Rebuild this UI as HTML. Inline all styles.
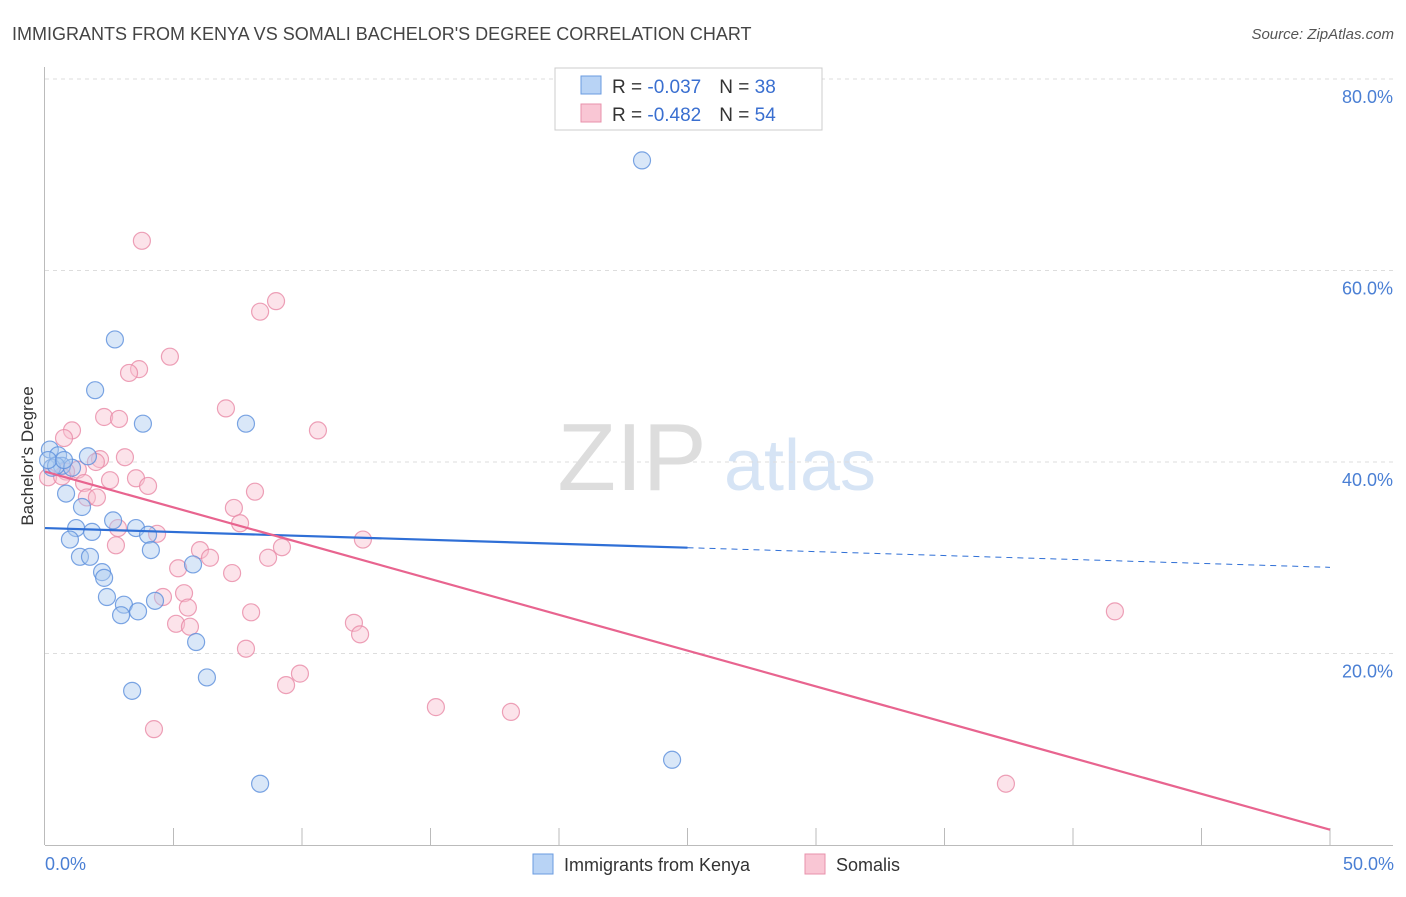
<!DOCTYPE html>
<html><head><meta charset="utf-8"><style>
body{margin:0;background:#fff;font-family:"Liberation Sans",sans-serif;}
svg text{font-family:"Liberation Sans",sans-serif;}
</style></head><body>
<svg id="chart" width="1406" height="892" xmlns="http://www.w3.org/2000/svg">
<text x="12" y="40" font-size="18" fill="#444">IMMIGRANTS FROM KENYA VS SOMALI BACHELOR'S DEGREE CORRELATION CHART</text>
<text x="1394" y="39" font-size="15" fill="#555" font-style="italic" text-anchor="end">Source: ZipAtlas.com</text>
<g>
<text x="632" y="490" font-size="96" fill="#ddd" text-anchor="middle" font-family="Liberation Serif,serif">ZIP</text>
<text x="800" y="490" font-size="72" fill="#d6e4f5" text-anchor="middle">atlas</text>
</g>
<g id="grid"></g>
<line x1="44.5" y1="67" x2="44.5" y2="845" stroke="#bbb"/>
<line x1="45" y1="845.5" x2="1393" y2="845.5" stroke="#bbb"/>
<g id="ticks"></g>
<g id="pts"></g>
<g id="trend"></g>
<text transform="translate(33,456) rotate(-90)" font-size="17" fill="#333" text-anchor="middle">Bachelor's Degree</text>
<text x="45" y="870" font-size="18" fill="#4a7fd4">0.0%</text>
<text x="1394" y="870" font-size="18" fill="#4a7fd4" text-anchor="end">50.0%</text>
<g>
<rect x="555" y="68" width="267" height="62" fill="#fff" stroke="#ccc"/>
<rect x="581" y="76" width="20" height="18" fill="#b8d3f5" stroke="#6a9be0"/>
<rect x="581" y="104" width="20" height="18" fill="#f9c6d4" stroke="#e891ab"/>
<text x="612" y="93" font-size="19" fill="#333">R = <tspan fill="#3a6fd0">-0.037</tspan><tspan dx="18">N = </tspan><tspan fill="#3a6fd0">38</tspan></text>
<text x="612" y="121" font-size="19" fill="#333">R = <tspan fill="#3a6fd0">-0.482</tspan><tspan dx="18">N = </tspan><tspan fill="#3a6fd0">54</tspan></text>
</g>
<g>
<rect x="533" y="854" width="20" height="20" fill="#b8d3f5" stroke="#6a9be0"/>
<text x="564" y="871" font-size="18" fill="#333">Immigrants from Kenya</text>
</g>
<g>
<rect x="805" y="854" width="20" height="20" fill="#f9c6d4" stroke="#e891ab"/>
<text x="836" y="871" font-size="18" fill="#333">Somalis</text>
</g>
</svg>
<script>
const yTicks=[20,40,60,80];
const yTickLabels=["20.0%","40.0%","60.0%","80.0%"];
const xTicks=[5,10,15,20,25,30,35,40,45,50];
const kenyaX=[23.23,2.72,1.95,3.81,7.82,0.19,0.51,1.67,0.66,0.27,0.82,1.44,2.65,1.21,3.54,4.01,0.97,1.83,1.36,1.75,4.12,5.76,2.22,2.30,2.41,3.07,4.28,3.62,2.96,5.88,6.30,3.39,24.40,8.37,0.43,0.12,1.05,0.74];
const kenyaY=[71.5,52.8,47.5,44.0,44.0,41.3,40.7,40.6,39.6,39.4,36.7,35.3,33.9,33.1,33.1,32.4,31.9,32.7,30.1,30.1,30.8,29.3,28.5,27.9,25.9,25.1,25.5,24.4,24.0,21.2,17.5,16.1,8.9,6.4,39.6,40.2,39.4,40.2];
const somaliX=[3.77,8.99,8.37,4.86,3.66,3.27,7.04,2.30,2.88,10.62,1.05,0.74,3.11,2.14,1.98,1.28,0.82,0.12,0.66,2.53,3.54,4.01,1.52,8.17,1.63,2.02,7.35,7.59,2.84,4.36,2.76,6.03,9.22,6.42,8.68,12.37,5.18,7.28,4.59,5.41,5.56,8.02,5.10,5.64,12.02,12.26,7.82,9.92,9.38,15.21,18.13,4.24,41.63,37.39];
const somaliY=[63.1,56.8,55.7,51.0,49.7,49.3,45.6,44.7,44.5,43.3,43.3,42.5,40.5,40.3,40.0,39.2,39.0,38.4,38.5,38.1,38.3,37.5,37.8,36.9,36.3,36.3,35.2,33.6,33.1,32.5,31.3,30.8,31.1,30.0,30.0,31.9,28.9,28.4,25.9,26.3,24.8,24.3,23.1,22.8,23.2,22.0,20.5,17.9,16.7,14.4,13.9,12.1,24.4,6.4];
const kenyaTrend=[33.1,29.0];
const somaliTrend=[39.0,1.6];
const NS="http://www.w3.org/2000/svg";
function X(v){return 45+v*25.7;}
function Y(v){return 845-v*9.575;}
function mk(tag,parent,attrs){const e=document.createElementNS(NS,tag);for(const k in attrs)e.setAttribute(k,attrs[k]);document.getElementById(parent).appendChild(e);return e;}
yTicks.forEach((t,i)=>{
  const l=mk('line','grid',{x1:45,x2:1393,y1:Y(t),y2:Y(t),stroke:'#ddd','stroke-dasharray':'4,4'});
  
  
  const tx=mk('text','grid',{x:1393,y:Y(t)+24,'font-size':18,fill:'#4a7fd4','text-anchor':'end'});
  tx.textContent=yTickLabels[i];
  
  
});
xTicks.forEach(t=>{
  const l=mk('line','ticks',{x1:X(t),x2:X(t),y1:828,y2:845,stroke:'#bbb'});
  
  
});
function pts(xs,ys,fill,stroke,name){
  xs.forEach((x,i)=>{
    const c=mk('circle','pts',{cx:X(x),cy:Y(ys[i]),r:8.5,fill:fill,'fill-opacity':0.45,stroke:stroke,'stroke-width':1.2,'stroke-opacity':0.8});
    
    
  });
}
pts(somaliX,somaliY,'#f9c0d0','#e889a6','somali-point');
pts(kenyaX,kenyaY,'#aac9f0','#5b8fdc','kenya-point');
let l=mk('line','trend',{x1:X(0),y1:Y(kenyaTrend[0]),x2:X(25),y2:Y(kenyaTrend[0]+(kenyaTrend[1]-kenyaTrend[0])*0.5),stroke:'#2f6fd6','stroke-width':2.2});


l=mk('line','trend',{x1:X(25),y1:Y(kenyaTrend[0]+(kenyaTrend[1]-kenyaTrend[0])*0.5),x2:X(50),y2:Y(kenyaTrend[1]),stroke:'#2f6fd6','stroke-width':1,'stroke-dasharray':'6,5'});


l=mk('line','trend',{x1:X(0),y1:Y(somaliTrend[0]),x2:X(50),y2:Y(somaliTrend[1]),stroke:'#e8648f','stroke-width':2.2});


</script>
</body></html>
